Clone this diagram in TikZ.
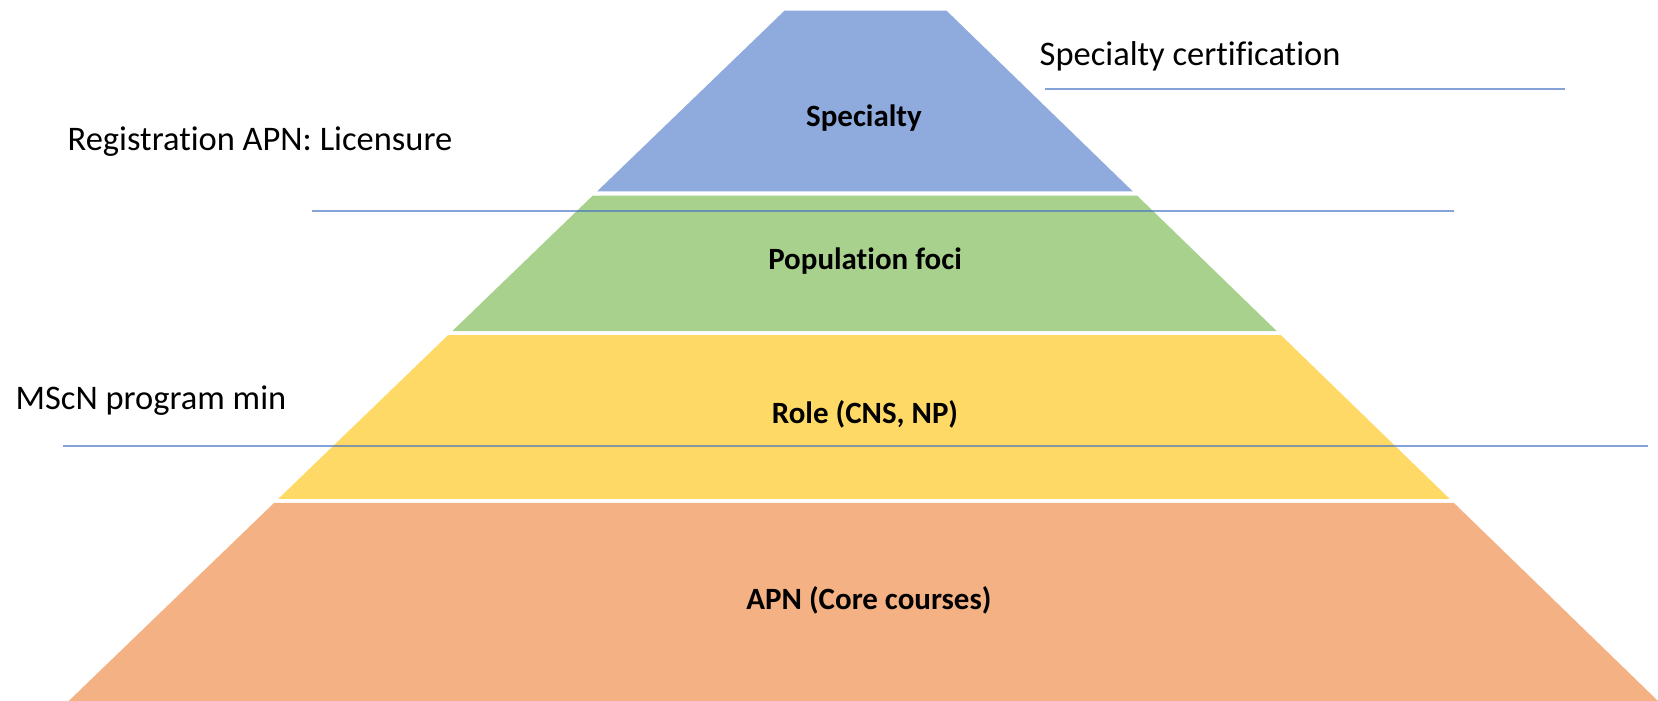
\documentclass[tikz,border=0pt]{standalone}
\usepackage{fontspec}
\setmainfont{Carlito}[Ligatures=NoCommon]
\usetikzlibrary{calc}
\definecolor{specblue}{HTML}{8FAADC}
\definecolor{popgreen}{HTML}{A9D18E}
\definecolor{roleyellow}{HTML}{FFD966}
\definecolor{apnorange}{HTML}{F4B183}
\definecolor{lineblue}{HTML}{4472C4}
\tikzset{
    bandlabel/.style = {inner sep=0pt, anchor=base, font=\fontsize{8.8}{10}\selectfont\bfseries},
    sidelabel/.style = {inner sep=0pt, anchor=base west, font=\fontsize{9.8}{12}\selectfont},
    levelline/.style = {draw=lineblue, opacity=0.65, line width=0.55pt}, % marker lines
}

\begin{document}
\begin{tikzpicture}[x=0.01cm, y=-0.01cm]
    \useasboundingbox (0,0) rectangle (1658,701);

    % corners of the whole pyramid
    \coordinate (tl) at (784.6,10.6);
    \coordinate (tr) at (946.4,10.6);
    \coordinate (bl) at (68.7,701);
    \coordinate (br) at (1658,701);

    % bands, top to bottom
    \foreach \top/\bot/\col in {0/0.2619/specblue, 0.2680/0.4641/popgreen,
                                0.4699/0.7074/roleyellow, 0.7132/1/apnorange}
        \fill[\col] ($(tl)!\top!(bl)$) -- ($(tr)!\top!(br)$)
                 -- ($(tr)!\bot!(br)$) -- ($(tl)!\bot!(bl)$) -- cycle;

    \node[bandlabel] (spec) at (864,127) {Specialty};
    \node[bandlabel] (pop)  at (865,270) {Population foci};
    \node[bandlabel] (role) at (865,424) {Role (CNS, NP)};
    \node[bandlabel] (apn)  at (869,610) {APN (Core courses)};

    \node[sidelabel] (cert)  at (1039,66) {Specialty certification};
    \node[sidelabel] (regis) at (67,151)  {Registration APN: Licensure};
    \node[sidelabel] (mscn)  at (15,410)  {MScN program min};

    % level marks
    \coordinate (certa) at (1045,88.8);
    \coordinate (certb) at (1565,88.8);
    \coordinate (regisa) at (312,211);
    \coordinate (regisb) at (1454,211);
    \coordinate (mscna) at (63,446);
    \coordinate (mscnb) at (1648,446);
    \draw[levelline] (certa) -- (certb);
    \draw[levelline] (regisa) -- (regisb);
    \draw[levelline] (mscna) -- (mscnb);

\end{tikzpicture}
\end{document}
